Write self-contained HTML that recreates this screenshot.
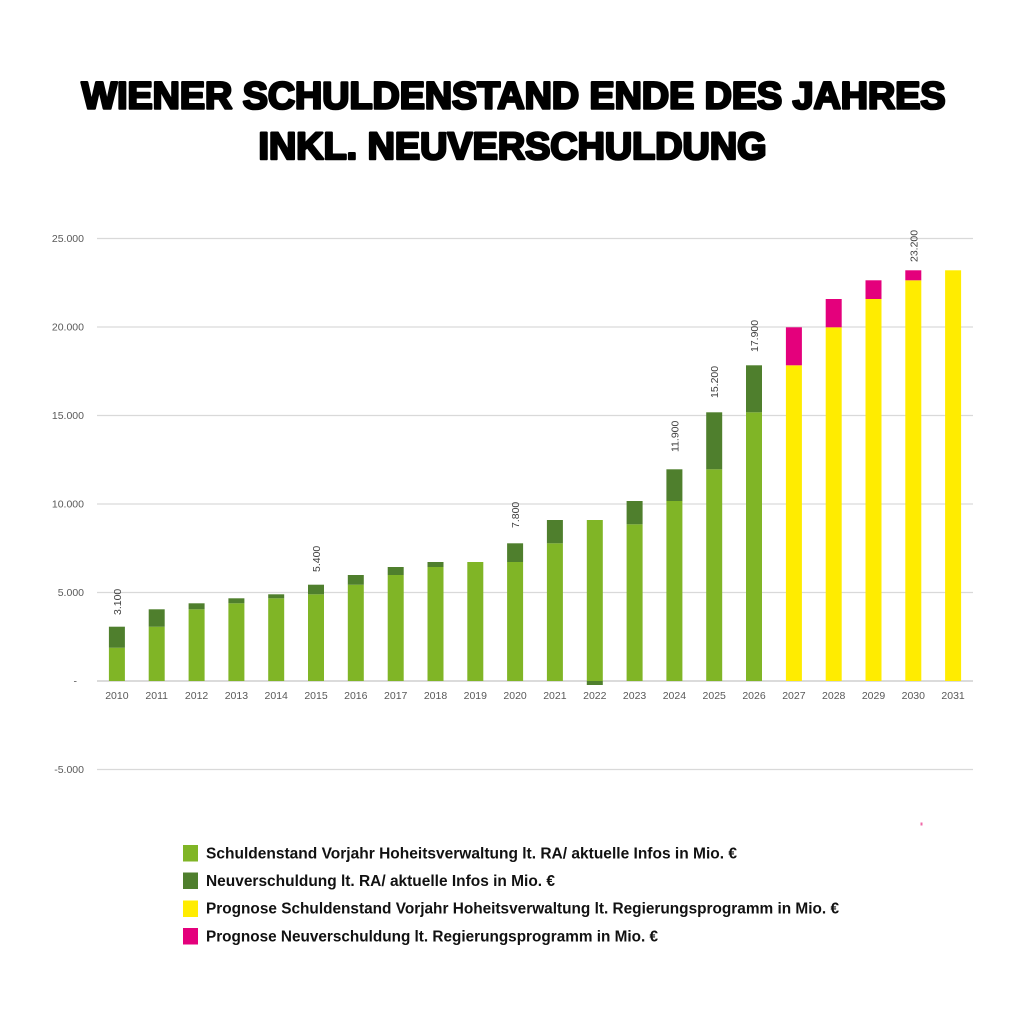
<!DOCTYPE html>
<html>
<head>
<meta charset="utf-8">
<style>
  html,body{margin:0;padding:0;background:#fff;}
  svg{display:block;}
</style>
</head>
<body>
<svg width="1024" height="1024" viewBox="0 0 1024 1024" xmlns="http://www.w3.org/2000/svg">
  <rect width="1024" height="1024" fill="#fff"/>
  <!-- Title -->
  <g font-family="Liberation Sans, Arial, sans-serif" font-weight="bold" font-size="38" fill="#000" stroke="#000" stroke-width="2.6" stroke-linejoin="round">
    <text x="81.5" y="108.5" textLength="864" lengthAdjust="spacingAndGlyphs">WIENER SCHULDENSTAND ENDE DES JAHRES</text>
    <text x="258.5" y="159" textLength="508" lengthAdjust="spacingAndGlyphs">INKL. NEUVERSCHULDUNG</text>
  </g>

  <!-- Gridlines -->
  <g stroke="#d9d9d9" stroke-width="1.2">
    <line x1="97" x2="973" y1="238.5" y2="238.5"/>
    <line x1="97" x2="973" y1="327" y2="327"/>
    <line x1="97" x2="973" y1="415.5" y2="415.5"/>
    <line x1="97" x2="973" y1="504" y2="504"/>
    <line x1="97" x2="973" y1="592.5" y2="592.5"/>
    <line x1="97" x2="973" y1="769.5" y2="769.5"/>
  </g>
  <line x1="97" x2="973" y1="681" y2="681" stroke="#cfcfcf" stroke-width="1.5"/>

  <!-- Y labels -->
  <g font-family="Liberation Sans, Arial, sans-serif" font-size="10.5" fill="#595959" text-anchor="end">
    <text x="84" y="242">25.000</text>
    <text x="84" y="330.5">20.000</text>
    <text x="84" y="419">15.000</text>
    <text x="84" y="507.5">10.000</text>
    <text x="84" y="596">5.000</text>
    <text x="77" y="684.5">-</text>
    <text x="84" y="773">-5.000</text>
  </g>

  <!-- Bars -->
  <g>
    <g fill="#80b526">
      <rect x="108.9" y="647.7" width="16" height="33.3"/>
      <rect x="148.7" y="626.7" width="16" height="54.3"/>
      <rect x="188.6" y="609.3" width="16" height="71.7"/>
      <rect x="228.4" y="603.3" width="16" height="77.7"/>
      <rect x="268.2" y="598.3" width="16" height="82.7"/>
      <rect x="308.0" y="594.3" width="16" height="86.7"/>
      <rect x="347.8" y="584.7" width="16" height="96.3"/>
      <rect x="387.7" y="575" width="16" height="106"/>
      <rect x="427.5" y="567" width="16" height="114"/>
      <rect x="467.3" y="562" width="16" height="119"/>
      <rect x="507.1" y="562" width="16" height="119"/>
      <rect x="546.9" y="543.3" width="16" height="137.7"/>
      <rect x="586.8" y="520" width="16" height="161"/>
      <rect x="626.6" y="524.3" width="16" height="156.7"/>
      <rect x="666.4" y="501" width="16" height="180"/>
      <rect x="706.2" y="469.3" width="16" height="211.7"/>
      <rect x="746.0" y="412.3" width="16" height="268.7"/>
    </g>
    <g fill="#4f7f2d">
      <rect x="108.9" y="626.7" width="16" height="21"/>
      <rect x="148.7" y="609.3" width="16" height="17.4"/>
      <rect x="188.6" y="603.3" width="16" height="6"/>
      <rect x="228.4" y="598.3" width="16" height="5"/>
      <rect x="268.2" y="594.3" width="16" height="4"/>
      <rect x="308.0" y="584.7" width="16" height="9.6"/>
      <rect x="347.8" y="575" width="16" height="9.7"/>
      <rect x="387.7" y="567" width="16" height="8"/>
      <rect x="427.5" y="562" width="16" height="5"/>
      <rect x="507.1" y="543.3" width="16" height="18.7"/>
      <rect x="546.9" y="520" width="16" height="23.3"/>
      <rect x="586.8" y="681" width="16" height="4"/>
      <rect x="626.6" y="501" width="16" height="23.3"/>
      <rect x="666.4" y="469.3" width="16" height="31.7"/>
      <rect x="706.2" y="412.3" width="16" height="57"/>
      <rect x="746.0" y="365.3" width="16" height="47"/>
    </g>
    <g fill="#ffec00">
      <rect x="785.9" y="365.3" width="16" height="315.7"/>
      <rect x="825.7" y="327.3" width="16" height="353.7"/>
      <rect x="865.5" y="299" width="16" height="382"/>
      <rect x="905.3" y="280.3" width="16" height="400.7"/>
      <rect x="945.1" y="270.3" width="16" height="410.7"/>
    </g>
    <g fill="#e4007c">
      <rect x="785.9" y="327.3" width="16" height="38"/>
      <rect x="825.7" y="299" width="16" height="28.3"/>
      <rect x="865.5" y="280.3" width="16" height="18.7"/>
      <rect x="905.3" y="270.3" width="16" height="10"/>
    </g>
  </g>

  <!-- Value labels (rotated) -->
  <g font-family="Liberation Sans, Arial, sans-serif" font-size="10.5" fill="#404040">
    <text transform="translate(120.9,615) rotate(-90)">3.100</text>
    <text transform="translate(320.0,572) rotate(-90)">5.400</text>
    <text transform="translate(519.1,528) rotate(-90)">7.800</text>
    <text transform="translate(678.4,452) rotate(-90)">11.900</text>
    <text transform="translate(718.2,398) rotate(-90)">15.200</text>
    <text transform="translate(758.0,352) rotate(-90)">17.900</text>
    <text transform="translate(917.3,262) rotate(-90)">23.200</text>
  </g>

  <!-- X labels -->
  <g font-family="Liberation Sans, Arial, sans-serif" font-size="10.5" fill="#595959" text-anchor="middle">
    <text x="116.9" y="699">2010</text>
    <text x="156.7" y="699">2011</text>
    <text x="196.6" y="699">2012</text>
    <text x="236.4" y="699">2013</text>
    <text x="276.2" y="699">2014</text>
    <text x="316.0" y="699">2015</text>
    <text x="355.8" y="699">2016</text>
    <text x="395.7" y="699">2017</text>
    <text x="435.5" y="699">2018</text>
    <text x="475.3" y="699">2019</text>
    <text x="515.1" y="699">2020</text>
    <text x="554.9" y="699">2021</text>
    <text x="594.8" y="699">2022</text>
    <text x="634.6" y="699">2023</text>
    <text x="674.4" y="699">2024</text>
    <text x="714.2" y="699">2025</text>
    <text x="754.0" y="699">2026</text>
    <text x="793.9" y="699">2027</text>
    <text x="833.7" y="699">2028</text>
    <text x="873.5" y="699">2029</text>
    <text x="913.3" y="699">2030</text>
    <text x="953.1" y="699">2031</text>
  </g>

  <!-- small pink dot -->
  <rect x="920.5" y="822.5" width="2" height="3" fill="#f06aa8"/>

  <!-- Legend -->
  <rect x="183" y="845" width="15" height="16.5" fill="#80b526"/>
  <rect x="183" y="872.5" width="15" height="16.5" fill="#4f7f2d"/>
  <rect x="183" y="900.5" width="15" height="16.5" fill="#ffec00"/>
  <rect x="183" y="928" width="15" height="16.5" fill="#e4007c"/>
  <g font-family="Liberation Sans, Arial, sans-serif" font-weight="bold" font-size="16" fill="#111">
    <text x="206" y="858.5" textLength="531" lengthAdjust="spacingAndGlyphs">Schuldenstand Vorjahr Hoheitsverwaltung lt. RA/ aktuelle Infos in Mio. €</text>
    <text x="206" y="886" textLength="349" lengthAdjust="spacingAndGlyphs">Neuverschuldung lt. RA/ aktuelle Infos in Mio. €</text>
    <text x="206" y="913.5" textLength="633" lengthAdjust="spacingAndGlyphs">Prognose Schuldenstand Vorjahr Hoheitsverwaltung lt. Regierungsprogramm in Mio. €</text>
    <text x="206" y="941.5" textLength="452" lengthAdjust="spacingAndGlyphs">Prognose Neuverschuldung lt. Regierungsprogramm in Mio. €</text>
  </g>
</svg>
</body>
</html>
